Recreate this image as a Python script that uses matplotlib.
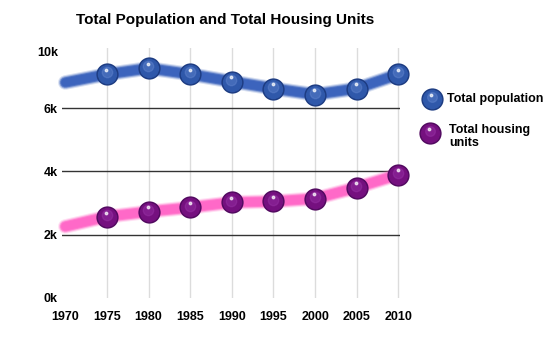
import matplotlib
matplotlib.use("Agg")
import matplotlib.pyplot as plt
from matplotlib.transforms import offset_copy

years = [1970, 1975, 1980, 1985, 1990, 1995, 2000, 2005, 2010]
population = [6810, 7070, 7260, 7070, 6840, 6620, 6430, 6620, 7070]
housing = [2260, 2570, 2730, 2860, 3020, 3050, 3140, 3490, 3900]
xtick_labels = ["1970", "1975", "1980", "1985", "1990", "1995", "2000", "2005", "2010"]
ytick_vals = [0, 2000, 4000, 6000, 7800]
ytick_labels = ["0k", "2k", "4k", "6k", "10k"]
grid_vals = [2000, 4000, 6000]
title = "Total Population and Total Housing Units"
series_names = ["Total population", "Total housing\nunits"]

plt.rcParams['font.family'] = ['Liberation Sans', 'DejaVu Sans']

fig = plt.figure(figsize=(5.5, 3.5), dpi=100)
ax = fig.add_axes([62/550, 52/350, 338/550, 250/350])
ax.set_xlim(1969.6, 2010.2)
ax.set_ylim(0, 7900)

for s in ax.spines.values():
    s.set_visible(False)

for yr in years[1:]:
    ax.axvline(yr, color="#dcdcdc", lw=1.0, zorder=0)
for g in grid_vals:
    ax.axhline(g, color="#333333", lw=1.0, zorder=1)

def soft_line(xs, ys, color):
    for lw, a in [(10.5, 0.2), (9, 0.4), (7.5, 0.75), (6, 1.0)]:
        ax.plot(xs, ys, color=color, lw=lw, alpha=a, solid_capstyle="round",
                zorder=2, clip_on=False)

def spheres(xs, ys, base, dark, light, size=15):
    trans = ax.transData
    ax.plot(xs, ys, "o", ms=size, color=dark, mec=dark, zorder=3, clip_on=False)
    ax.plot(xs, ys, "o", ms=size*0.86, color=base, mec=base, zorder=4, clip_on=False)
    t2 = offset_copy(trans, fig=fig, x=-0.3, y=1.3, units="points")
    ax.plot(xs, ys, "o", ms=size*0.5, color=light, mec=light, alpha=0.35,
            zorder=5, clip_on=False, transform=t2)
    t3 = offset_copy(trans, fig=fig, x=-0.5, y=3.0, units="points")
    ax.plot(xs, ys, "o", ms=1.8, color="white", mec="white", alpha=0.7,
            zorder=6, clip_on=False, transform=t3)

soft_line(years, population, "#3c64bd")
soft_line(years, housing, "#ff69c8")
spheres(years[1:], population[1:], "#2f58aa", "#1d3c82", "#6d8fd6")
spheres(years[1:], housing[1:], "#75107f", "#520960", "#a13bb0")

ax.set_xticks(years)
ax.set_xticklabels(xtick_labels, fontsize=9, fontweight="bold")
ax.set_yticks(ytick_vals)
ax.set_yticklabels(ytick_labels, fontsize=9, fontweight="bold")
ax.tick_params(axis="x", length=0, pad=9)
ax.tick_params(axis="y", length=0, pad=3)

lx = 432/550
fig_sph = [(lx, 1 - 99/350), (lx - 2/550, 1 - 133/350)]
cols = [("#2f58aa", "#1d3c82", "#6d8fd6"), ("#75107f", "#520960", "#a13bb0")]
for (fx, fy), (b, d, l), name in zip(fig_sph, cols, series_names):
    fig.lines.append(plt.Line2D([fx], [fy], marker="o", ms=15, color=d, mec=d,
                                transform=fig.transFigure))
    fig.lines.append(plt.Line2D([fx], [fy], marker="o", ms=12.9, color=b, mec=b,
                                transform=fig.transFigure))
    fig.lines.append(plt.Line2D([fx - 0.4/550], [fy + 2/350], marker="o", ms=7, color=l,
                                mec=l, alpha=0.35, transform=fig.transFigure))
    fig.lines.append(plt.Line2D([fx - 0.7/550], [fy + 4/350], marker="o", ms=1.8,
                                color="white", mec="white", alpha=0.7,
                                transform=fig.transFigure))
fig.text(447/550, 1 - 99/350, series_names[0], fontsize=9, fontweight="bold",
         va="center", ha="left")
fig.text(449/550, 1 - 136.5/350, series_names[1], fontsize=9, fontweight="bold",
         va="center", ha="left", linespacing=1.1)

fig.text(225/550, 1 - 20/350, title, fontsize=11, fontweight="bold",
         ha="center", va="center")

fig.savefig("out.png", dpi=100)
